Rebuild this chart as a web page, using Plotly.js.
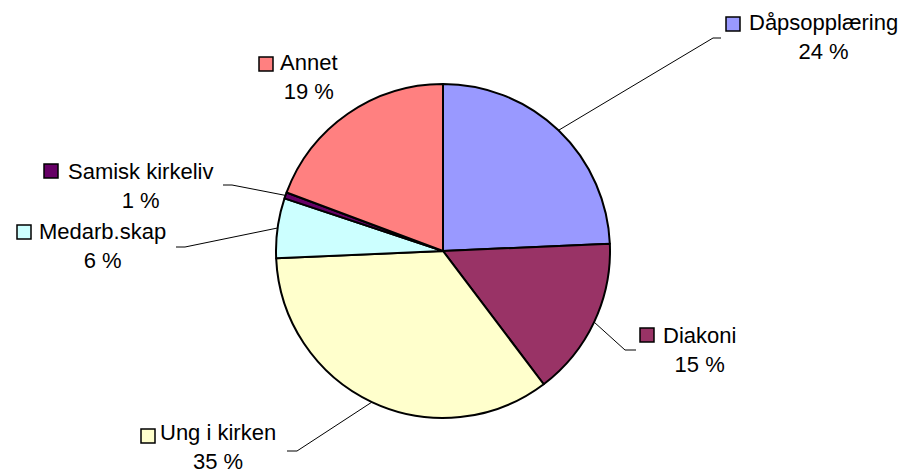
<!DOCTYPE html>
<html>
<head>
<meta charset="utf-8">
<script src="https://cdn.plot.ly/plotly-3.0.1.min.js"></script>
<style>html,body{margin:0;padding:0;background:#fff;}#chart{width:906px;height:476px;}</style>
</head>
<body>
<div id="chart"></div>
<script>
// ---- data ----
const categories = ["Dåpsopplæring", "Diakoni", "Ung i kirken", "Medarb.skap", "Samisk kirkeliv", "Annet"];
const values = [24.3, 15.4, 34.6, 5.8, 0.6, 19.3];
const colors = ["#9999FF", "#993366", "#FFFFCC", "#CCFFFF", "#660066", "#FF8080"];

// ---- layout (pixel helpers) ----
const W = 906, H = 476;
const px = x => x / W;
const py = y => 1 - y / H;
const cx = 443, cy = 251, R = 167;

// label layout per category: square centre, text block (x centre, y, anchor), leader elbow & end (null = no leader)
const labelLayout = [
  {sq:[733,24],  tx:823, ty:37,  ya:"middle", elbow:[713,38], end:[721,38]},
  {sq:[647,335], tx:699, ty:350, ya:"middle", elbow:[625,350], end:[636,350]},
  {sq:[148,436], tx:218, ty:476, ya:"bottom", elbow:[297,451], end:[287,451]},
  {sq:[24,232],  tx:102, ty:246, ya:"middle", elbow:[185,247], end:[176,247]},
  {sq:[51,171],  tx:140, ty:186, ya:"middle", elbow:[232,185], end:[223,185]},
  {sq:[266,64],  tx:309, ty:77,  ya:"middle", elbow:null, end:null}
];

const total = values.reduce((a,b)=>a+b,0);
const font = {family: "Liberation Sans, Arial, sans-serif", size: 22, color: "#000"};
const annotations = [];
const shapes = [];
let cum = 0;
values.forEach((v,i) => {
  const mid = (cum + v/2) / total * 2 * Math.PI;
  cum += v;
  const L = labelLayout[i];
  const ex = cx + R * Math.sin(mid), ey = cy - R * Math.cos(mid);
  if (L.elbow) {
    shapes.push({type:"path", xref:"paper", yref:"paper",
      path:`M ${px(ex)} ${py(ey)} L ${px(L.elbow[0])} ${py(L.elbow[1])} L ${px(L.end[0])} ${py(L.end[1])}`,
      line:{color:"#000", width:1}});
  }
  const s = 7;
  shapes.push({type:"rect", xref:"paper", yref:"paper",
    x0:px(L.sq[0]-s), x1:px(L.sq[0]+s), y0:py(L.sq[1]+s), y1:py(L.sq[1]-s),
    fillcolor:colors[i], line:{color:"#000", width:1.5}});
  annotations.push({xref:"paper", yref:"paper", x:px(L.tx), y:py(L.ty),
    text:categories[i] + "<br>" + Math.round(v/total*100) + " %",
    showarrow:false, xanchor:"center", yanchor:L.ya, align:"center", font:font});
});

const trace = {
  type: "pie",
  labels: categories,
  values: values,
  sort: false,
  direction: "clockwise",
  rotation: 0,
  textinfo: "none",
  hoverinfo: "label+percent",
  marker: {colors: colors, line: {color: "#000", width: 2}},
  domain: {x: [px(cx - R), px(cx + R)], y: [py(cy + R), py(cy - R)]},
  showlegend: false
};

Plotly.newPlot("chart", [trace], {
  width: W, height: H,
  margin: {l:0, r:0, t:0, b:0},
  paper_bgcolor: "#fff",
  showlegend: false,
  shapes: shapes,
  annotations: annotations
}, {staticPlot: true});
</script>
</body>
</html>
